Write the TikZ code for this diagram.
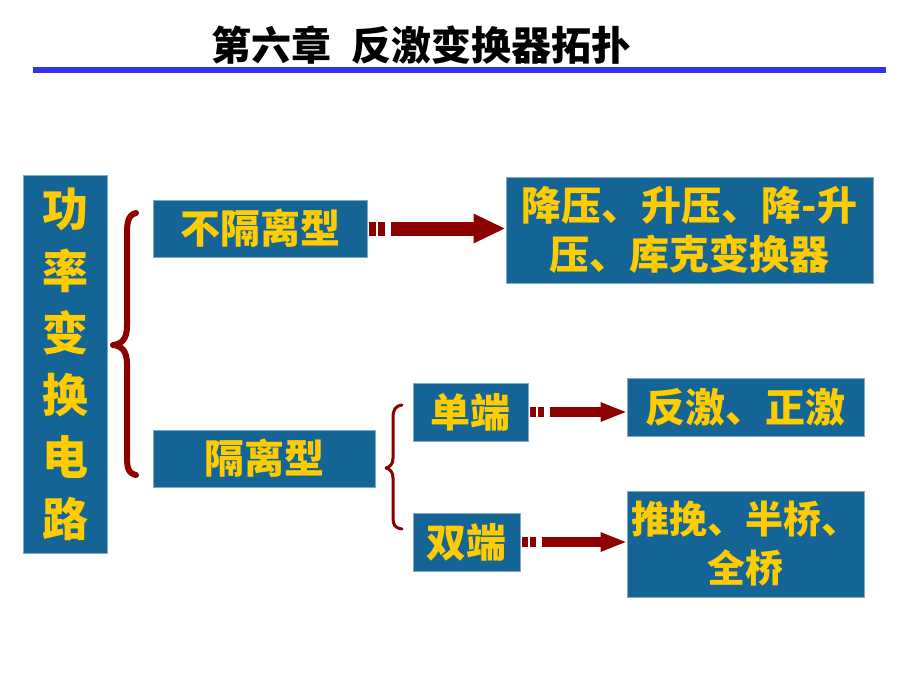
\documentclass[tikz,border=0pt]{standalone}
\usepackage{fontspec}
\newfontfamily\cjk{Noto Sans CJK SC}
\usetikzlibrary{calc}
\definecolor{boxblue}{RGB}{20,100,150}
\definecolor{txtyel}{RGB}{255,204,0}
\definecolor{arrred}{RGB}{140,0,0}
\definecolor{rulblue}{RGB}{50,50,235}
\tikzset{
  box/.style={fill=boxblue, draw=boxblue!55!white, line width=1pt, inner sep=0pt,
    text=txtyel, align=center, font=\cjk\bfseries\fontsize{40}{49}\selectfont},
  brace/.style={draw=arrred, line cap=round, line join=round},
}
\newcommand\fatarrow[6]{% src, dst, shaft h, head h, head len, dash len
  \draw[arrred, line width=#3pt, dash pattern=on #6pt off 2pt on #6pt off 6pt on 1000pt]
    ($(#1.east)+(1,0)$) -- ($(#2.west |- #1.east)+(-#5-2,0)$);
  \fill[arrred] ($(#2.west |- #1.east)+(-#5-2,-#4/2)$) -- ($(#2.west |- #1.east)+(-1,0)$)
    -- ($(#2.west |- #1.east)+(-#5-2,#4/2)$) -- cycle;
}
\begin{document}
\begin{tikzpicture}[x=1pt,y=-1pt]
\useasboundingbox (0,0) rectangle (920,690);
\fill[white] (0,0) rectangle (920,690);
% title
\node[font=\cjk\bfseries\fontsize{40}{40}\selectfont, inner sep=0pt] (title) at (421,45) {第六章\hspace{0.5em}反激变换器拓扑};
\fill[rulblue] (33,67) rectangle (886,73);
% boxes
\node[box, minimum width=84pt, minimum height=378pt, font=\cjk\bfseries\fontsize{46}{62}\selectfont] (main) at (65,364)
  {功\\率\\变\\换\\电\\路};
\node[box, minimum width=214pt, minimum height=57pt] (ni) at (260,228.5) {不隔离型};
\node[box, minimum width=367pt, minimum height=106pt] (jy) at (689.5,230) {降压、升压、降-升\\压、库克变换器};
\node[box, minimum width=222pt, minimum height=57pt] (gl) at (264,458.5) {隔离型};
\node[box, minimum width=115pt, minimum height=58pt] (dd) at (470.5,412) {单端};
\node[box, minimum width=107pt, minimum height=58pt] (sd) at (466.5,542) {双端};
\node[box, minimum width=237pt, minimum height=58pt] (fz) at (745.5,407) {反激、正激};
\node[box, minimum width=237pt, minimum height=106pt, font=\cjk\bfseries\fontsize{38}{49}\selectfont] (tw) at (745.5,544) {推挽、半桥、\\全桥};
% arrows
\fatarrow{ni}{jy}{14}{30}{30}{7}
\fatarrow{dd}{fz}{10}{20}{24}{6}
\fatarrow{sd}{tw}{10}{20}{24}{6}
% braces
\draw[brace, line width=6pt] (136,213) .. controls (127,215) and (127,225) .. (127,236) -- (127,326)
  .. controls (127,340) and (121,344) .. (113,345) .. controls (121,346) and (127,350) .. (127,364)
  -- (127,454) .. controls (127,466) and (127,473) .. (136,475);
\draw[brace, line width=3pt] (402,405) .. controls (395,406) and (393,410) .. (393,418) -- (393,458)
  .. controls (393,464) and (390,467) .. (386,468) .. controls (390,469) and (393,472) .. (393,478)
  -- (393,518) .. controls (393,525) and (395,528) .. (402,529);
\end{tikzpicture}
\end{document}
